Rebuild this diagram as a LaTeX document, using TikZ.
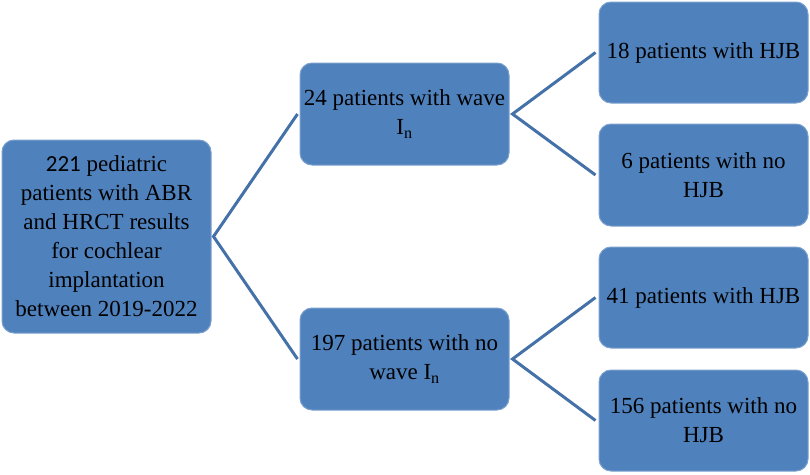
\documentclass[tikz,border=0pt]{standalone}
\usepackage{fontspec}
\setmainfont{Liberation Serif}
\newfontfamily\numfont{Carlito}
\usetikzlibrary{calc}
\definecolor{boxblue}{RGB}{79,129,189}
\definecolor{lineblue}{RGB}{68,114,168}
\tikzset{
  patbox/.style={rectangle, rounded corners=12pt, fill=boxblue, draw=boxblue!75!white,
    line width=1pt, minimum width=209pt, inner sep=0pt, align=center,
    font=\fontsize{23}{29}\selectfont},
  branch/.style={draw=lineblue, line width=3pt}
}

\begin{document}
\begin{tikzpicture}[x=1pt,y=-1pt]
\useasboundingbox (0,0) rectangle (810,474);

%全体
\node[patbox, minimum height=193pt] (R) at (106.5,236.5)
  {{\numfont 221} pediatric\\patients with ABR\\and HRCT results\\for cochlear\\implantation\\between 2019-2022};

%wave I_n の有無
\node[patbox, minimum height=102pt] (A) at (404.5,114) {24 patients with wave\\I\textsubscript{n}};
\node[patbox, minimum height=102pt] (B) at (404.5,359) {197 patients with no\\wave I\textsubscript{n}};

%HJB の有無
\node[patbox, minimum height=101pt] (A1) at (703.5,52.5) {18 patients with HJB};
\node[patbox, minimum height=102pt] (A2) at (703.5,175) {6 patients with no\\HJB};
\node[patbox, minimum height=101pt] (B1) at (703.5,297.5) {41 patients with HJB};
\node[patbox, minimum height=101pt] (B2) at (703.5,420.5) {156 patients with no\\HJB};

%枝分かれの線
\draw[branch] ($(A.west)+(-2,0)$) -- ($(R.east)+(2,0)$) -- ($(B.west)+(-2,0)$);
\draw[branch] ($(A1.west)+(-3,0)$) -- ($(A.east)+(3,0)$) -- ($(A2.west)+(-3,0)$);
\draw[branch] ($(B1.west)+(-3,0)$) -- ($(B.east)+(3,0)$) -- ($(B2.west)+(-3,0)$);
\end{tikzpicture}
\end{document}
